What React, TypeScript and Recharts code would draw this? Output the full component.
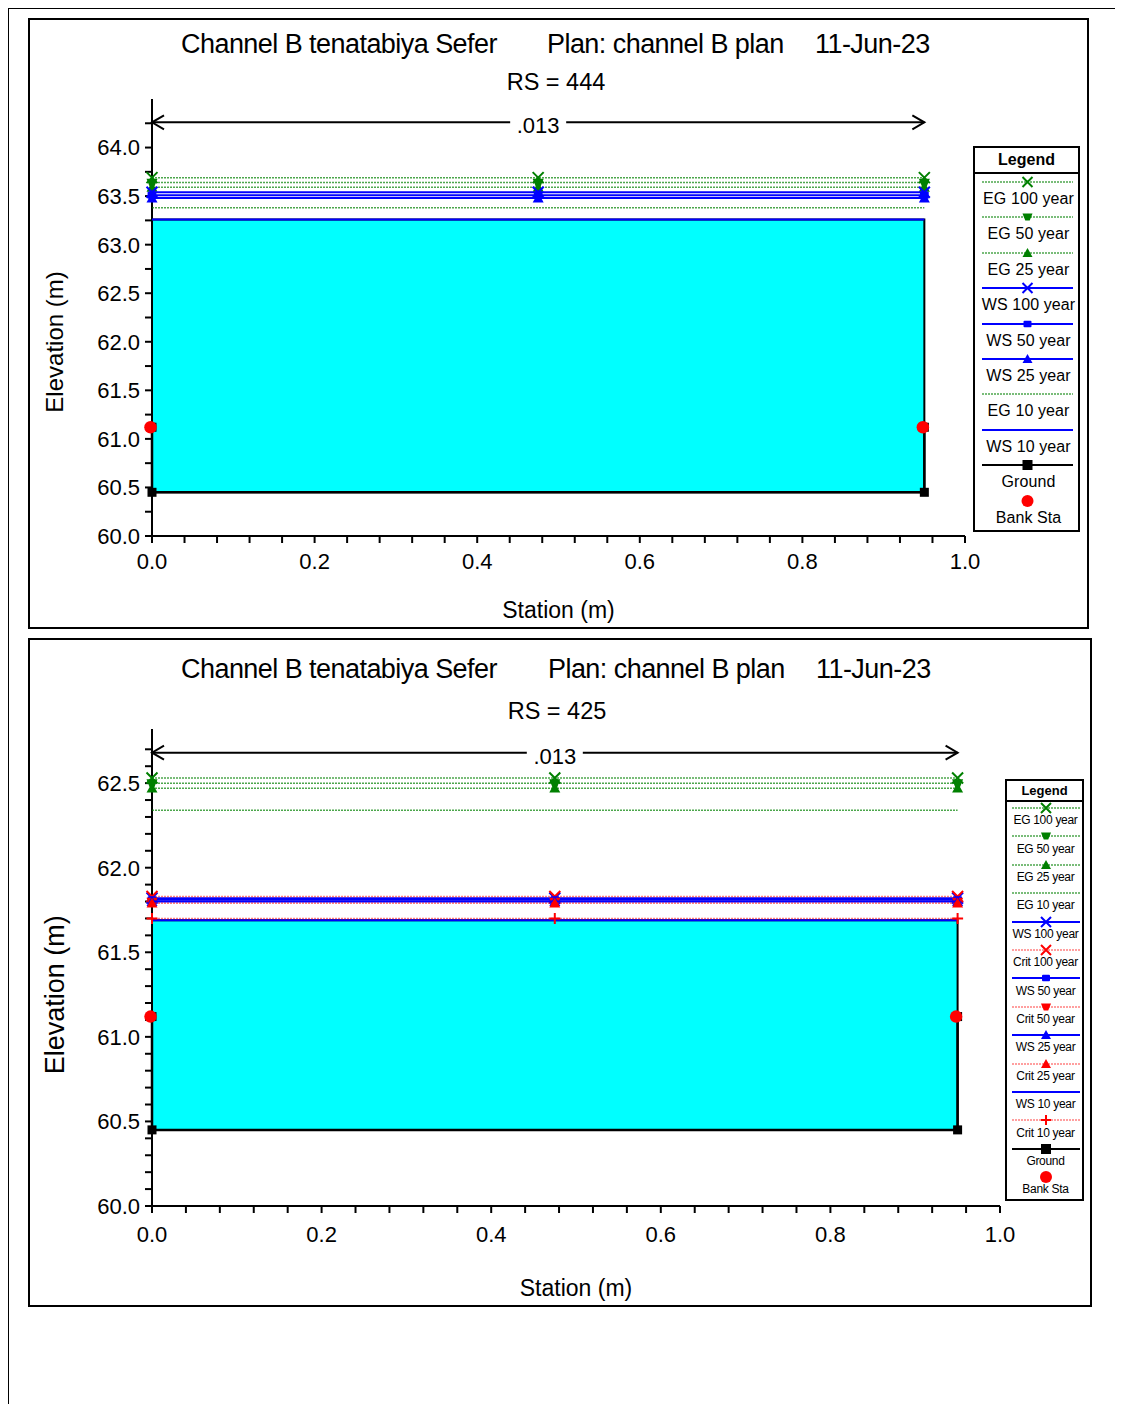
import React from 'react';
import {
  ComposedChart,
  Scatter,
  XAxis,
  YAxis,
  ReferenceArea,
  ReferenceDot,
  Legend,
  Label,
} from 'recharts';

const FONT = '"Liberation Sans", Arial, Helvetica, sans-serif';

// channel geometry (same for both sections)
const markerStations = [0, 0.475, 0.95];
const groundStations = [0, 0, 0.95, 0.95];
const groundElevations = [61.12, 60.45, 60.45, 61.12];
const bankStations = [0, 0.95];
const bankElevations = [61.12, 61.12];
const arrowStations = [0, 0.95];
const manningN = '.013';

const xLabels = [0, 0.2, 0.4, 0.6, 0.8, 1.0];

// RS = 444
const rs444Profiles = ['EG 100 year', 'EG 50 year', 'EG 25 year', 'WS 100 year', 'WS 50 year', 'WS 25 year', 'EG 10 year', 'WS 10 year'];
const rs444Elevations = [63.69, 63.64, 63.59, 63.54, 63.51, 63.48, 63.38, 63.26];
const rs444Markers = ['x', 'triDown', 'triUp', 'x', 'square', 'triUp', 'none', 'none'];
const rs444YLabels = [60.0, 60.5, 61.0, 61.5, 62.0, 62.5, 63.0, 63.5, 64.0];
const rs444ArrowElev = 64.26;

// RS = 425
const rs425Profiles = ['EG 100 year', 'EG 50 year', 'EG 25 year', 'EG 10 year', 'WS 100 year', 'Crit 100 year', 'WS 50 year', 'Crit 50 year', 'WS 25 year', 'Crit 25 year', 'WS 10 year', 'Crit 10 year'];
const rs425Elevations = [62.53, 62.5, 62.47, 62.34, 61.82, 61.83, 61.81, 61.8, 61.8, 61.79, 61.69, 61.7];
const rs425Markers = ['x', 'triDown', 'triUp', 'none', 'x', 'x', 'square', 'triDown', 'triUp', 'triUp', 'none', 'plus'];
const rs425YLabels = [60.0, 60.5, 61.0, 61.5, 62.0, 62.5];
const rs425ArrowElev = 62.68;

// evenly spaced minor tick positions for an axis
const stepTicks = (from: number, to: number, step: number) => {
  const out: number[] = [];
  for (let v = from; v <= to + 1e-9; v += step) out.push(Math.round(v * 1000) / 1000);
  return out;
};

const isMajor = (majors: number[], v: number) => majors.some((m) => Math.abs(m - v) < 1e-6);

function lineStyle(name: string) {
  if (name.startsWith('EG')) return { color: '#008000', stroke: '#008000', width: 1.5, dash: '2 1', opacity: 0.7 };
  if (name.startsWith('WS')) return { color: '#0000ff', stroke: '#0000ff', width: 2, dash: undefined, opacity: 1 };
  return { color: '#ff0000', stroke: '#ff0000', width: 1.5, dash: '2 1', opacity: 0.5 };
}

function drawMarker(kind: string, cx: number, cy: number, color: string, s: number) {
  switch (kind) {
    case 'x':
      return <path d={`M${cx - s},${cy - s}L${cx + s},${cy + s}M${cx - s},${cy + s}L${cx + s},${cy - s}`} stroke={color} strokeWidth={2} fill="none" />;
    case 'triUp':
      return <path d={`M${cx},${cy - s}L${cx + s},${cy + s * 0.8}L${cx - s},${cy + s * 0.8}Z`} fill={color} />;
    case 'triDown':
      return <path d={`M${cx - s},${cy - s * 0.7}L${cx + s},${cy - s * 0.7}L${cx + s * 0.45},${cy + s * 0.7}L${cx - s * 0.45},${cy + s * 0.7}Z`} fill={color} />;
    case 'square':
      return <rect x={cx - s * 0.8} y={cy - s * 0.65} width={s * 1.6} height={s * 1.3} rx={1} fill={color} />;
    case 'block':
      return <rect x={cx - s} y={cy - s} width={s * 2} height={s * 2} fill={color} />;
    case 'plus':
      return <path d={`M${cx - s},${cy}L${cx + s},${cy}M${cx},${cy - s}L${cx},${cy + s}`} stroke={color} strokeWidth={2} fill="none" />;
    case 'dot':
      return <circle cx={cx} cy={cy} r={s * 1.2} fill={color} />;
    default:
      return <g />;
  }
}

type LegendCfg = {
  left: number; top: number; width: number; height: number;
  headerH: number; headerFont: number; rowH: number; lineY: number; textY: number;
  fontSize: number; spacing: number; textDx: number; x1: number; x2: number; markerS: number;
};

type LegendItem = { name: string; marker: string; color: string; line: boolean; width: number; dash?: string; opacity: number };

function LegendBox({ items, cfg }: { items: LegendItem[]; cfg: LegendCfg }) {
  const mid = (cfg.x1 + cfg.x2) / 2;
  return (
    <div style={{ width: cfg.width, height: cfg.height, boxSizing: 'border-box', border: '2px solid #000', background: '#fff', overflow: 'hidden', fontFamily: FONT, color: '#000' }}>
      <div style={{ height: cfg.headerH, boxSizing: 'border-box', borderBottom: '2px solid #000', fontWeight: 700, fontSize: cfg.headerFont, lineHeight: `${cfg.headerH - 2}px`, textAlign: 'center' }}>
        Legend
      </div>
      {items.map((it) => (
        <div key={it.name} style={{ height: cfg.rowH, position: 'relative' }}>
          <svg width={cfg.width} height={cfg.lineY * 2 + 4} style={{ position: 'absolute', left: 0, top: 0, overflow: 'visible' }}>
            {it.line && (
              <line x1={cfg.x1} x2={cfg.x2} y1={cfg.lineY} y2={cfg.lineY} stroke={it.color} strokeWidth={it.width} strokeDasharray={it.dash} strokeOpacity={it.opacity} />
            )}
            {drawMarker(it.marker, mid, cfg.lineY, it.color, cfg.markerS)}
          </svg>
          <div style={{ position: 'absolute', left: cfg.textDx, width: cfg.width - 4, top: cfg.textY - 0.56 * cfg.fontSize, fontSize: cfg.fontSize, lineHeight: 1.117, letterSpacing: cfg.spacing, textAlign: 'center', whiteSpace: 'nowrap' }}>
            {it.name}
          </div>
        </div>
      ))}
    </div>
  );
}

type SectionProps = {
  profiles: string[]; elevations: number[]; markers: string[];
  yDomain: [number, number]; yLabels: number[]; yStep: number; arrowElev: number;
  width: number; height: number; margin: { top: number; right: number; bottom: number; left: number };
  xTickMargin: number; xTitleDy: number; yTitleFont: number; yTitleFrac: number; markerS: number;
  legend: LegendCfg;
};

function CrossSection(p: SectionProps) {
  const series = p.profiles.map((name, i) => ({
    name,
    marker: p.markers[i],
    ...lineStyle(name),
    data: markerStations.map((x) => ({ x, y: p.elevations[i] })),
  }));
  const ground = groundStations.map((x, i) => ({ x, y: groundElevations[i] }));
  const banks = bankStations.map((x, i) => ({ x, y: bankElevations[i] }));
  const arrow = arrowStations.map((x, i) => ({ x, y: p.arrowElev, end: i === 0 ? 'left' : 'right' }));
  const waterTop = p.elevations[p.profiles.indexOf('WS 10 year')];
  const yTicks = stepTicks(p.yDomain[0], p.yDomain[1] - p.yStep / 2, p.yStep);
  const xTicks = stepTicks(0, 1, 0.04);

  const legendItems: LegendItem[] = [
    ...series.map((s) => ({ name: s.name, marker: s.marker, color: s.color, line: true, width: s.width, dash: s.dash, opacity: s.opacity })),
    { name: 'Ground', marker: 'block', color: '#000', line: true, width: 2, opacity: 1 },
    { name: 'Bank Sta', marker: 'dot', color: '#ff0000', line: false, width: 0, opacity: 1 },
  ];

  const axisStyle = { stroke: '#000', strokeWidth: 2 };

  return (
    <ComposedChart width={p.width} height={p.height} margin={p.margin}>
      <XAxis
        type="number"
        dataKey="x"
        domain={[0, 1]}
        ticks={xTicks}
        interval={0}
        tickSize={7}
        tickMargin={p.xTickMargin}
        axisLine={axisStyle}
        tickLine={axisStyle}
        height={60}
        tick={(t: any) =>
          isMajor(xLabels, t.payload.value) ? (
            <text x={t.x} y={t.y} dy="0.71em" textAnchor="middle" fontSize={22} fill="#000" fontFamily={FONT}>
              {t.payload.value.toFixed(1)}
            </text>
          ) : (
            <g />
          )
        }
      >
        <Label
          content={(l: any) => (
            <text x={l.viewBox.x + l.viewBox.width / 2} y={l.viewBox.y + p.xTitleDy} textAnchor="middle" fontSize={23} fill="#000" fontFamily={FONT}>
              Station (m)
            </text>
          )}
        />
      </XAxis>
      <YAxis
        type="number"
        dataKey="y"
        domain={p.yDomain}
        ticks={yTicks}
        interval={0}
        width={124}
        tickSize={7}
        tickMargin={5}
        axisLine={axisStyle}
        tickLine={axisStyle}
        tick={(t: any) =>
          isMajor(p.yLabels, t.payload.value) ? (
            <text x={t.x} y={t.y} dy="0.36em" textAnchor="end" fontSize={22} fill="#000" fontFamily={FONT}>
              {t.payload.value.toFixed(1)}
            </text>
          ) : (
            <g />
          )
        }
      >
        <Label
          content={(l: any) => {
            const cx = 27;
            const cy = l.viewBox.y + l.viewBox.height * p.yTitleFrac;
            return (
              <text x={cx} y={cy} dy="0.35em" transform={`rotate(-90 ${cx} ${cy})`} textAnchor="middle" fontSize={p.yTitleFont} fill="#000" fontFamily={FONT}>
                Elevation (m)
              </text>
            );
          }}
        />
      </YAxis>

      <ReferenceArea
        x1={bankStations[0]}
        x2={bankStations[1]}
        y1={groundElevations[1]}
        y2={waterTop}
        fill="#00ffff"
        fillOpacity={1}
        stroke="#000"
        strokeWidth={2}
      />

      {/* roughness dimension arrow */}
      <Scatter
        data={arrow}
        line={{ stroke: '#000', strokeWidth: 2 }}
        isAnimationActive={false}
        shape={(s: any) => {
          const d = s.payload.end === 'left' ? 1 : -1;
          return <path d={`M${s.cx + 12 * d},${s.cy - 7}L${s.cx},${s.cy}L${s.cx + 12 * d},${s.cy + 7}`} stroke="#000" strokeWidth={2} fill="none" />;
        }}
      />
      <ReferenceDot
        x={markerStations[1]}
        y={p.arrowElev}
        shape={(s: any) => (
          <g>
            <rect x={s.cx - 28} y={s.cy - 14} width={56} height={28} fill="#fff" />
            <text x={s.cx} y={s.cy + 11} textAnchor="middle" fontSize={22} fill="#000" fontFamily={FONT}>
              {manningN}
            </text>
          </g>
        )}
      />

      {series.map((s) => (
        <Scatter
          key={s.name}
          name={s.name}
          data={s.data}
          isAnimationActive={false}
          line={{ stroke: s.stroke, strokeWidth: s.width, strokeDasharray: s.dash, strokeOpacity: s.opacity }}
          shape={(pt: any) => drawMarker(s.marker, pt.cx, pt.cy, s.color, p.markerS)}
        />
      ))}
      <Scatter
        name="Ground"
        data={ground}
        isAnimationActive={false}
        line={{ stroke: '#000', strokeWidth: 2.5 }}
        shape={(pt: any) => drawMarker('block', pt.cx, pt.cy, '#000', 4.5)}
      />
      <Scatter
        name="Bank Sta"
        data={banks}
        isAnimationActive={false}
        shape={(pt: any) => drawMarker('dot', pt.cx - 1.5, pt.cy, '#ff0000', 5.2)}
      />
      <Legend
        layout="vertical"
        align="center"
        verticalAlign="middle"
        wrapperStyle={{ left: p.legend.left, top: p.legend.top, width: p.legend.width, height: p.legend.height }}
        content={() => <LegendBox items={legendItems} cfg={p.legend} />}
      />
    </ComposedChart>
  );
}

const titleStyle: React.CSSProperties = { position: 'absolute', fontSize: 27, lineHeight: 1.117, letterSpacing: -0.55, whiteSpace: 'nowrap', color: '#000' };
const rsStyle: React.CSSProperties = { position: 'absolute', fontSize: 23.5, lineHeight: 1.117, whiteSpace: 'nowrap', color: '#000', transform: 'translateX(-50%)' };

export default function App() {
  return (
    <div style={{ position: 'relative', width: 1114, height: 1396, fontFamily: FONT }}>
      <div style={{ position: 'absolute', left: 0, top: 0, width: 1114, height: 1400, boxSizing: 'border-box', borderLeft: '1px solid #000', borderTop: '1px solid #000', borderRight: '1px solid #000' }} />

      {/* RS = 444 */}
      <div style={{ position: 'absolute', left: 20, top: 10, width: 1061, height: 611, boxSizing: 'border-box', border: '2px solid #000' }} />
      <div style={{ ...titleStyle, left: 173, top: 21 }}>Channel B tenatabiya Sefer</div>
      <div style={{ ...titleStyle, left: 539, top: 21 }}>Plan: channel B plan</div>
      <div style={{ ...titleStyle, left: 807, top: 21 }}>11-Jun-23</div>
      <div style={{ ...rsStyle, left: 548, top: 61 }}>RS = 444</div>
      <div style={{ position: 'absolute', left: 20, top: 10 }}>
        <CrossSection
          profiles={rs444Profiles}
          elevations={rs444Elevations}
          markers={rs444Markers}
          yDomain={[60, 64.5]}
          yLabels={rs444YLabels}
          yStep={0.25}
          arrowElev={rs444ArrowElev}
          width={1062}
          height={612}
          margin={{ top: 81, right: 125, bottom: 34, left: 0 }}
          xTickMargin={10}
          xTitleDy={82}
          yTitleFont={24}
          yTitleFrac={0.556}
          markerS={5.5}
          legend={{ left: 945, top: 128, width: 107, height: 386, headerH: 26, headerFont: 16, rowH: 35.4, lineY: 8, textY: 25, fontSize: 16, spacing: 0.1, textDx: 2, x1: 7, x2: 98, markerS: 5 }}
        />
      </div>

      {/* RS = 425 */}
      <div style={{ position: 'absolute', left: 20, top: 630, width: 1064, height: 669, boxSizing: 'border-box', border: '2px solid #000' }} />
      <div style={{ ...titleStyle, left: 173, top: 646 }}>Channel B tenatabiya Sefer</div>
      <div style={{ ...titleStyle, left: 540, top: 646 }}>Plan: channel B plan</div>
      <div style={{ ...titleStyle, left: 808, top: 646 }}>11-Jun-23</div>
      <div style={{ ...rsStyle, left: 549, top: 690 }}>RS = 425</div>
      <div style={{ position: 'absolute', left: 20, top: 630 }}>
        <CrossSection
          profiles={rs425Profiles}
          elevations={rs425Elevations}
          markers={rs425Markers}
          yDomain={[60, 62.82]}
          yLabels={rs425YLabels}
          yStep={0.1}
          arrowElev={rs425ArrowElev}
          width={1065}
          height={670}
          margin={{ top: 91, right: 93, bottom: 42, left: 0 }}
          xTickMargin={13}
          xTitleDy={90}
          yTitleFont={27}
          yTitleFrac={0.557}
          markerS={5.5}
          legend={{ left: 977, top: 141, width: 79, height: 422, headerH: 21, headerFont: 13, rowH: 28.4, lineY: 6, textY: 19, fontSize: 12, spacing: -0.3, textDx: 1, x1: 5, x2: 73, markerS: 5 }}
        />
      </div>
    </div>
  );
}
